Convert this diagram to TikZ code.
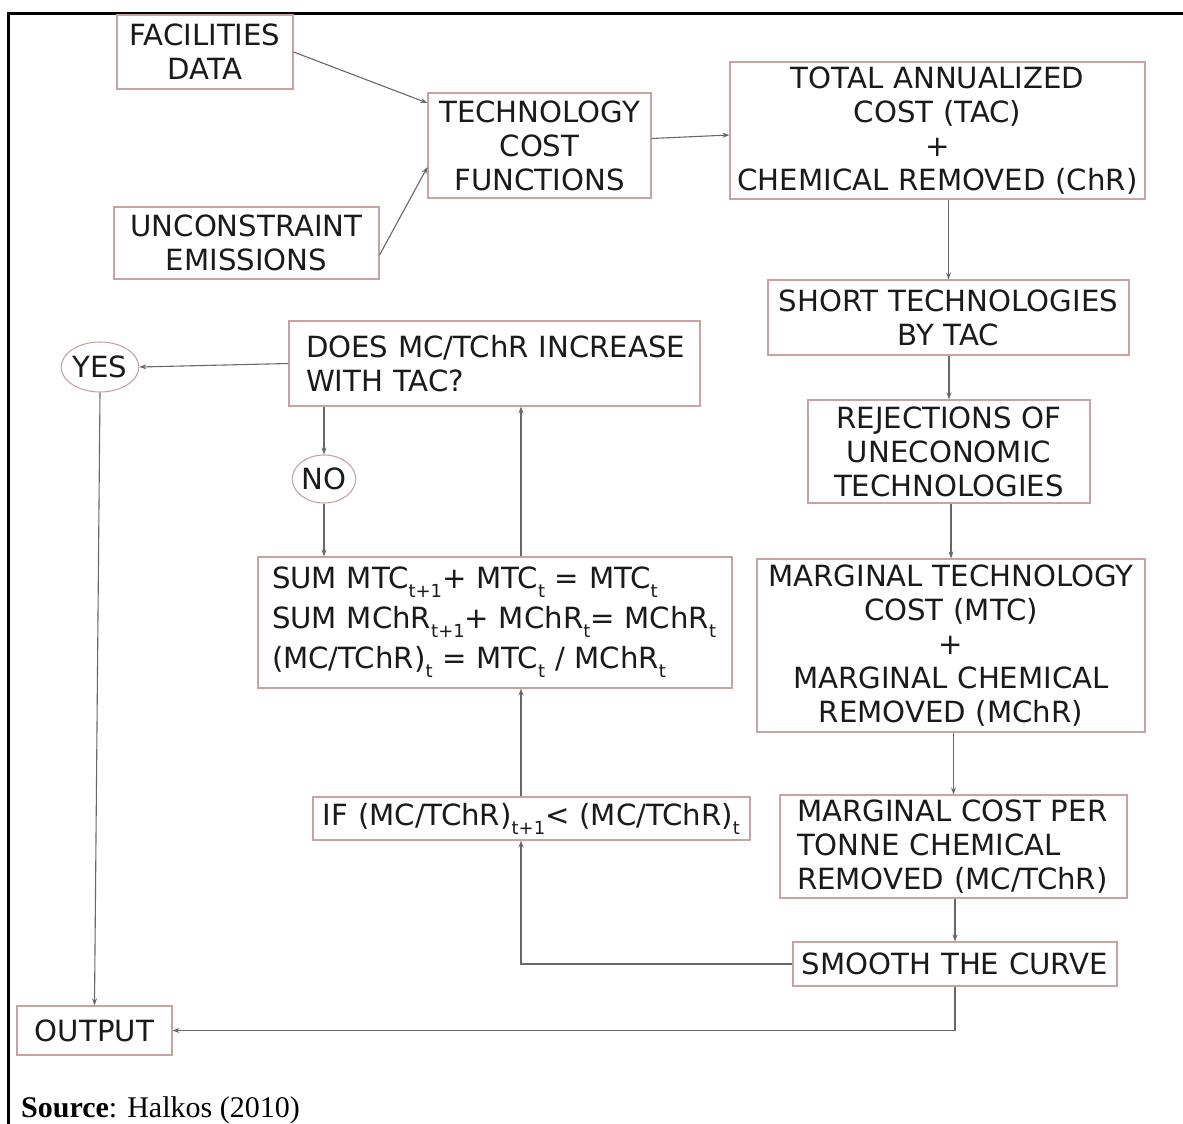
\documentclass[tikz,border=0pt]{standalone}
\usepackage{fontspec}
\setmainfont{DejaVu Sans}
\newfontfamily\srcfont{Liberation Serif}
\usetikzlibrary{arrows.meta,shapes.geometric,calc}
\definecolor{boxc}{HTML}{C9A3A3}
\definecolor{linec}{HTML}{686868}
\definecolor{txtc}{HTML}{1A1A1A}
\newcommand\lowr[1]{\raisebox{-9pt}{\fontsize{18}{18}\selectfont #1}}
\tikzset{
  flowbox/.style={draw=boxc, line width=1.1pt, inner sep=0pt, text=txtc, align=center,
    font=\fontsize{29.2}{34}\selectfont},
  leftbox/.style={flowbox, align=left},
  ovalbox/.style={ellipse, draw=boxc, line width=1.1pt, inner sep=0pt, text=txtc,
    font=\fontsize{29.2}{34}\selectfont},
  arr/.style={draw=linec, line width=1.1pt, -{Stealth[length=7pt,width=5pt]}},
  plain/.style={draw=linec, line width=1.1pt}
}
\begin{document}
\begin{tikzpicture}[x=1pt,y=-1pt]
\useasboundingbox (0,0) rectangle (1183,1124);
% outer frame (top and left)
\draw[line width=3pt, black] (1183,14) -- (8,14) -- (8,1124);

\node[flowbox, text width=176pt, minimum height=74pt] (fac) at (205,52) {FACILITIES\\DATA};
\node[flowbox, text width=265pt, minimum height=72pt] (unc) at (246.5,243) {UNCONSTRAINT\\EMISSIONS};
\node[flowbox, text width=223pt, minimum height=105pt] (tcf) at (539.5,145.5) {TECHNOLOGY\\COST\\FUNCTIONS};
\node[flowbox, text width=415pt, minimum height=137pt] (tac) at (937.5,130.5) {TOTAL ANNUALIZED\\COST (TAC)\\+\\\mbox{CHEMICAL REMOVED (ChR)}};
\node[flowbox, text width=361pt, minimum height=75pt] (sht) at (948.5,317.5) {SHORT TECHNOLOGIES\\BY TAC};
\node[flowbox, text width=282pt, minimum height=103pt] (rej) at (949,451.5) {REJECTIONS OF\\UNECONOMIC\\TECHNOLOGIES};
\node[flowbox, text width=388pt, minimum height=173pt] (mtc) at (951,645.5) {\mbox{MARGINAL TECHNOLOGY}\\COST (MTC)\\+\\MARGINAL CHEMICAL\\REMOVED (MChR)};
\node[leftbox, text width=313pt, inner xsep=17pt, minimum height=103pt] (mcp) at (953.5,846.5) {\mbox{MARGINAL COST PER}\\\mbox{TONNE CHEMICAL}\\\mbox{REMOVED (MC/TChR)}};
\node[flowbox, text width=324pt, minimum height=44pt] (smo) at (955,964) {SMOOTH THE CURVE};
\node[leftbox, text width=377pt, inner xsep=17pt, minimum height=85pt] (doesb) at (494.5,363.5) {\mbox{DOES MC/TChR INCREASE}\\WITH TAC?};
\node[ovalbox, minimum width=70pt, minimum height=50pt] (yes) at (100,367) {YES};
\node[ovalbox, minimum width=62pt, minimum height=48pt] (no) at (324,479) {NO};
\node[leftbox, text width=446pt, inner xsep=14pt, minimum height=131pt,
  font=\fontsize{29.2}{40}\selectfont] (sumb) at (495,622.5)
  {\mbox{SUM MTC\lowr{t+1}+ MTC\lowr{t} = MTC\lowr{t}}\\
   \mbox{SUM MChR\lowr{t+1}+ MChR\lowr{t}= MChR\lowr{t}}\\
   \mbox{(MC/TChR)\lowr{t} = MTC\lowr{t} / MChR\lowr{t}}};
\node[flowbox, text width=437pt, minimum height=43pt] (ifb) at (531.5,818.5) {\mbox{IF (MC/TChR)\lowr{t+1}< (MC/TChR)\lowr{t}}};
\node[flowbox, text width=155pt, minimum height=49pt] (outp) at (94.5,1030.5) {OUTPUT};

\node[anchor=base west, inner sep=0pt, font=\srcfont\fontsize{30}{30}\selectfont] (src) at (21,1117) {\textbf{Source}: Halkos (2010)};

% connectors
\draw[arr] (fac.east) -- ([yshift=42.5pt]tcf.west);
\draw[arr] ([yshift=-12pt]unc.east) -- ([yshift=-21.5pt]tcf.west);
\draw[arr] ([yshift=7pt]tcf.east) -- ([yshift=-4.5pt]tac.west);
\draw[arr] (sht.north |- tac.south) -- (sht.north);
\draw[arr] (rej.north |- sht.south) -- (rej.north);
\draw[arr] (mtc.north |- rej.south) -- (mtc.north);
\draw[arr] (mcp.north |- mtc.south) -- (mcp.north);
\draw[arr] (smo.north |- mcp.south) -- (smo.north);
\coordinate (loopx) at ([xshift=-10.5pt]ifb.south);
\draw[arr] (smo.west) -| (loopx);
\draw[arr] ([xshift=-10.5pt]ifb.north) -- ([xshift=-10.5pt]ifb.north |- sumb.south);
\draw[arr] ([xshift=-10.5pt]ifb.north |- sumb.north) -- ([xshift=-10.5pt]ifb.north |- doesb.south);
\draw[arr] (doesb.west) -- (yes.east);
\draw[arr] (no.north |- doesb.south) -- (no.north);
\draw[arr] (no.south) -- (no.south |- sumb.north);
\draw[arr] (yes.south) -- (outp.north);
\draw[arr] (smo.south) |- (outp.east);
\end{tikzpicture}
\end{document}
